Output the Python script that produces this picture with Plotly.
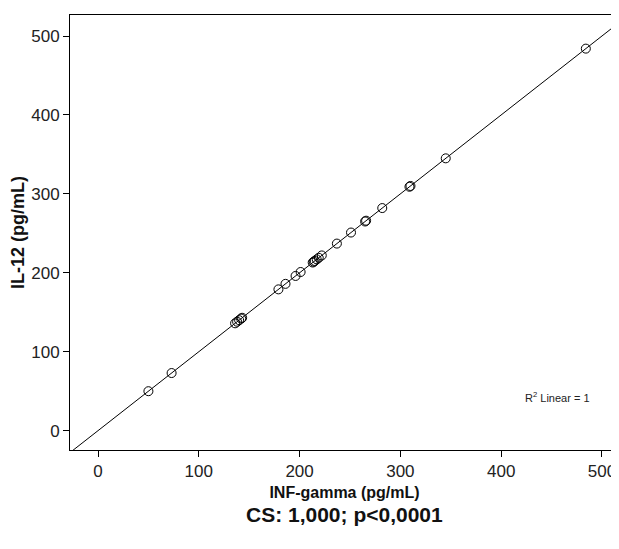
import numpy as np
import plotly.graph_objects as go

# Data (x = INF-gamma, y = IL-12)
inf_gamma = [50, 73, 136, 138, 140, 142, 143, 179, 186, 196, 201, 213, 214, 215, 217,
             219, 222, 237, 251, 265, 266, 282, 309, 310, 345, 484]
il_12 = [50, 73, 136, 138, 140, 142, 143, 179, 186, 196, 201, 213, 214, 215, 217,
         219, 222, 237, 251, 265, 266, 282, 309, 310, 345, 484]
x_ticks = [0, 100, 200, 300, 400, 500]
y_ticks = [0, 100, 200, 300, 400, 500]
x_range = [-27.8, 516.9]
y_range = [-24.5, 526.6]

# linear fit line
slope, intercept = np.polyfit(inf_gamma, il_12, 1)
fx = np.array([x_range[0] - 5, x_range[1] + 5])
fy = slope * fx + intercept

fig = go.Figure()
fig.add_trace(go.Scatter(x=fx, y=fy, mode="lines",
                         line=dict(color="black", width=1), showlegend=False, hoverinfo="skip"))
fig.add_trace(go.Scatter(x=inf_gamma, y=il_12, mode="markers",
                         marker=dict(symbol="circle-open", size=9, color="black",
                                     line=dict(width=1, color="black")),
                         showlegend=False))

font_family = "Liberation Sans, Arial, sans-serif"
# page body has an 8px margin, so the figure is 611x541 placed at (8, 8)
fig.update_layout(
    width=611, height=541,
    margin=dict(l=62, r=0, t=7, b=99),
    plot_bgcolor="white", paper_bgcolor="white",
    font=dict(family=font_family, color="#222222", size=16),
    xaxis=dict(range=x_range, tickvals=x_ticks, ticks="outside", ticklen=6, tickwidth=1,
               tickcolor="black", showline=True, linecolor="black", linewidth=1,
               mirror=True, showgrid=False, zeroline=False,
               tickfont=dict(size=17, color="#222222"),
               title=dict(text="<b>INF-gamma (pg/mL)</b>", font=dict(size=16, color="#111111"),
                          standoff=6)),
    yaxis=dict(range=y_range, tickvals=y_ticks, ticks="outside", ticklen=6, tickwidth=1,
               tickcolor="black", showline=True, linecolor="black", linewidth=1,
               showgrid=False, zeroline=False,
               tickfont=dict(size=17, color="#222222"),
               title=dict(text="<b>IL-12 (pg/mL)</b>", font=dict(size=18, color="#111111"),
                          standoff=4)),
    annotations=[
        dict(x=456, y=42.7, xref="x", yref="y", text="R<sup>2</sup> Linear = 1",
             showarrow=False, font=dict(size=11, color="#222222")),
        dict(x=0.5, y=-(515 - 450) / 435, xref="paper", yref="paper",
             text="<b>CS: 1,000; p<0,0001</b>", yanchor="middle",
             showarrow=False, font=dict(size=21, color="#111111")),
    ],
)

fig.write_html("out.html")
